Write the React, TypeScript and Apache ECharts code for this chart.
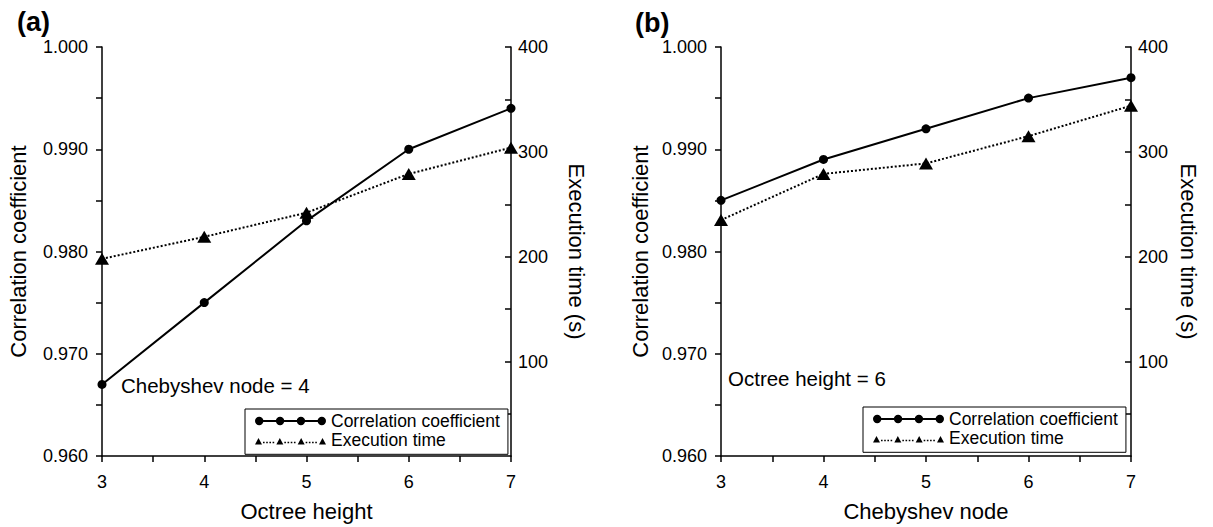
import React, { useEffect, useRef } from "react";
import * as echarts from "echarts";

const xValues = [3, 4, 5, 6, 7];
const corrA = [0.967, 0.975, 0.983, 0.99, 0.994];
const timeA = [198, 219, 242, 279, 304];
const corrB = [0.985, 0.989, 0.992, 0.995, 0.997];
const timeB = [235, 279, 289, 315, 344];
const timeLabelValues = [100, 200, 300, 400];
const timeTickValues = [50, 100, 150, 200, 250, 300, 350, 400];
const seriesNames = ["Correlation coefficient", "Execution time"];
const panelTitles = ["(a)", "(b)"];
const xTitles = ["Octree height", "Chebyshev node"];
const notes = ["Chebyshev node = 4", "Octree height = 6"];

const FONT = "'Liberation Sans', Arial, Helvetica, sans-serif";

function circleSub(cx: number, cy: number, r: number) {
  return `M${cx - r},${cy}A${r},${r},0,1,1,${cx + r},${cy}A${r},${r},0,1,1,${cx - r},${cy}Z`;
}
function rectSub(x: number, y: number, w: number, h: number) {
  return `M${x},${y}L${x + w},${y}L${x + w},${y + h}L${x},${y + h}Z`;
}

function buildCircleIcon() {
  const W = 71, H = 8.4, r = 4.2;
  const step = (W - 2 * r) / 3;
  let d = "";
  const cs: number[] = [];
  for (let i = 0; i < 4; i++) cs.push(r + i * step);
  cs.forEach((cx) => (d += circleSub(cx, H / 2, r)));
  for (let i = 0; i < 3; i++) {
    const x0 = cs[i] + r - 0.3;
    const x1 = cs[i + 1] - r + 0.3;
    d += rectSub(x0, H / 2 - 0.9, x1 - x0, 1.8);
  }
  return "path://" + d;
}

function buildTriangleIcon() {
  const W = 71, H = 8.4, tw = 7, th = 6.4;
  const step = (W - tw) / 3;
  let d = rectSub(0, 0, 0.01, 0.01);
  const cs: number[] = [];
  for (let i = 0; i < 4; i++) cs.push(tw / 2 + i * step);
  cs.forEach((cx) => {
    d += `M${cx},${H - th}L${cx + tw / 2},${H}L${cx - tw / 2},${H}Z`;
  });
  for (let i = 0; i < 3; i++) {
    const x0 = cs[i] + tw / 2 + 1;
    const x1 = cs[i + 1] - tw / 2 - 1;
    for (let x = x0; x + 1.5 <= x1; x += 3.2) {
      d += rectSub(x, H - 2.8, 1.6, 1.6);
    }
  }
  return "path://" + d;
}

export default function App() {
  const ref = useRef<HTMLDivElement>(null);
  useEffect(() => {
    if (!ref.current) return;
    const chart = echarts.init(ref.current, undefined, { renderer: "svg" });
    const black = "#000";
    const axisLineStyle = { color: black, width: 1.5 };
    const grids = [
      { left: 102, top: 47, width: 409, height: 410 },
      { left: 721, top: 47, width: 410, height: 410 },
    ];
    const xAxes = [0, 1].map((g) => ({
      type: "value",
      gridIndex: g,
      min: 3,
      max: 7,
      interval: 1,
      axisLine: { show: true, onZero: false, lineStyle: axisLineStyle },
      axisTick: { show: true, inside: false, length: 6, lineStyle: axisLineStyle },
      minorTick: { show: true, splitNumber: 2, length: 6, lineStyle: axisLineStyle },
      splitLine: { show: false },
      minorSplitLine: { show: false },
      axisLabel: { fontSize: 18, color: black, margin: 17, fontFamily: FONT },
      name: xTitles[g],
      nameLocation: "middle",
      nameGap: 44,
      nameTextStyle: { fontSize: 22, color: black, fontFamily: FONT },
    }));
    const yAxes: any[] = [];
    [0, 1].forEach((g) => {
      yAxes.push({
        type: "value",
        gridIndex: g,
        position: "left",
        min: 0.96,
        max: 1.0,
        interval: 0.01,
        axisLine: { show: true, onZero: false, lineStyle: axisLineStyle },
        axisTick: { show: true, inside: false, length: 6, lineStyle: axisLineStyle },
        minorTick: { show: true, splitNumber: 2, length: 6, lineStyle: axisLineStyle },
        splitLine: { show: false },
        minorSplitLine: { show: false },
        axisLabel: {
          fontSize: 18,
          color: black,
          margin: 14,
          fontFamily: FONT,
          formatter: (v: number) => v.toFixed(3),
        },
        name: "Correlation coefficient",
        nameLocation: "middle",
        nameGap: g === 0 ? 73 : 70,
        nameTextStyle: { fontSize: 22, color: black, fontFamily: FONT },
      });
      yAxes.push({
        type: "value",
        gridIndex: g,
        position: "right",
        min: 10,
        max: 400,
        axisLine: { show: true, onZero: false, lineStyle: axisLineStyle },
        axisTick: {
          show: true,
          inside: true,
          length: 6,
          lineStyle: axisLineStyle,
          customValues: timeTickValues,
        },
        splitLine: { show: false },
        axisLabel: {
          fontSize: 18,
          color: black,
          margin: 7,
          fontFamily: FONT,
          customValues: timeLabelValues,
        },
        name: "Execution time (s)",
        nameLocation: "middle",
        nameRotate: -90,
        nameGap: g === 0 ? 54 : 46,
        nameTextStyle: { fontSize: 22, color: black, fontFamily: FONT, padding: [0, 0, 0, 0] },
      });
    });

    const mk = (vals: number[]) => xValues.map((x, i) => [x, vals[i]]);
    const corrSeries = (g: number, vals: number[]) => ({
      type: "line",
      name: seriesNames[0],
      xAxisIndex: g,
      yAxisIndex: g * 2,
      data: mk(vals),
      symbol: "circle",
      symbolSize: 9,
      clip: false,
      color: black,
      lineStyle: { color: black, width: 2 },
      itemStyle: { color: black, borderWidth: 0 },
      z: 2,
    });
    const timeSeries = (g: number, vals: number[]) => ({
      type: "line",
      name: seriesNames[1],
      xAxisIndex: g,
      yAxisIndex: g * 2 + 1,
      data: mk(vals),
      symbol: "triangle",
      symbolSize: [14, 12],
      clip: false,
      color: black,
      lineStyle: { color: black, width: 2, type: "dotted" },
      itemStyle: { color: black, borderWidth: 0 },
      z: 3,
    });

    const iconC = buildCircleIcon();
    const iconT = buildTriangleIcon();
    const legendBase = (left: number, top: number) => ({
      left,
      top,
      orient: "vertical",
      selectedMode: false,
      itemWidth: 71,
      itemHeight: 8.4,
      itemGap: 1.3,
      itemTextGap: 10,
      padding: [3, 8, 5, 10],
      borderColor: black,
      borderWidth: 1,
      backgroundColor: "#fff",
      itemStyle: { color: black, borderWidth: 0 },
      textStyle: { fontSize: 17.5, lineHeight: 17, color: black, fontFamily: FONT },
      data: [
        { name: seriesNames[0], icon: iconC },
        { name: seriesNames[1], icon: iconT },
      ],
    });

    chart.setOption({
      animation: false,
      backgroundColor: "#fff",
      textStyle: { fontFamily: FONT },
      grid: grids,
      xAxis: xAxes,
      yAxis: yAxes,
      legend: [legendBase(245, 409), legendBase(863, 407)],
      series: [
        corrSeries(0, corrA),
        timeSeries(0, timeA),
        corrSeries(1, corrB),
        timeSeries(1, timeB),
      ],
      graphic: [
        {
          type: "text",
          left: 17,
          top: 8,
          style: { text: panelTitles[0], font: `bold 27px ${FONT}`, fill: black },
        },
        {
          type: "text",
          left: 635,
          top: 9,
          style: { text: panelTitles[1], font: `bold 27px ${FONT}`, fill: black },
        },
        {
          type: "text",
          left: 121,
          top: 375,
          style: { text: notes[0], font: `20.5px ${FONT}`, fill: black },
        },
        {
          type: "text",
          left: 728,
          top: 368,
          style: { text: notes[1], font: `20.5px ${FONT}`, fill: black },
        },
      ],
    });
    return () => chart.dispose();
  }, []);
  return (
    <div
      ref={ref}
      style={{ position: "absolute", left: 0, top: 0, width: 1213, height: 527 }}
    />
  );
}
